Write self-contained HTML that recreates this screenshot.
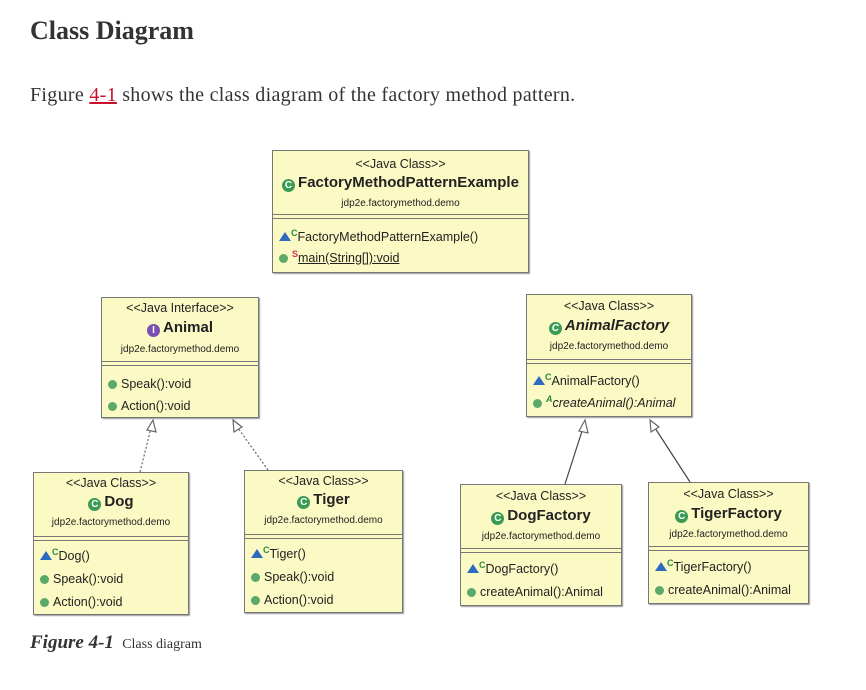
<!DOCTYPE html>
<html><head><meta charset="utf-8"><style>
body{margin:0;width:866px;height:690px;background:#fff;position:relative;overflow:hidden;font-family:"Liberation Sans",sans-serif}
.t{position:absolute;font-family:"Liberation Serif",serif;color:#333;white-space:nowrap}
.box{position:absolute;background:#fbf9c4;border:1px solid #777;box-shadow:1px 1px 1px #999;box-sizing:border-box;font-size:11px;color:#222}
.box div{position:absolute;left:0;right:0;white-space:nowrap;line-height:16px}
.c{text-align:center}
.st{font-size:12.5px;top:5px}
.nm{font-size:15px;font-weight:bold}
.pk{font-size:10px}
.dl{height:3px;border-top:1px solid #777;border-bottom:1px solid #777}
.m{padding-left:6px;font-size:12.5px}
.ic{display:inline-block;width:13px;height:13px;border-radius:50%;background:#3b9a53;color:#fff;font-size:10px;line-height:13px;text-align:center;font-weight:bold;vertical-align:-1px;margin-right:3px}
.dot{display:inline-block;width:9px;height:9px;border-radius:50%;background:#5aa86a;margin-right:4px;vertical-align:-1px}
.tri{display:inline-block;width:0;height:0;border-left:6px solid transparent;border-right:6px solid transparent;border-bottom:9px solid #2d6bbf;vertical-align:0}
sup{font-size:9px;color:#2a8a3a;font-weight:bold;line-height:0;vertical-align:5px}
</style></head><body>
<div class="t" style="left:30px;top:16px;font-size:26px;font-weight:bold">Class Diagram</div>
<div class="t" style="left:30px;top:84px;font-size:20px;letter-spacing:0.3px">Figure <span style="color:#c8102e;text-decoration:underline">4-1</span> shows the class diagram of the factory method pattern.</div>
<div class="t" style="left:30px;top:632px;font-size:19px"><b><i>Figure 4-1</i></b> <span style="font-size:14px">&nbsp;Class diagram</span></div>

<svg style="position:absolute;left:0;top:0" width="866" height="690">
<g fill="#fff" stroke="#666" stroke-width="1.2">
<line x1="140" y1="472" x2="151" y2="428" stroke-dasharray="2,2"/>
<line x1="268" y1="470" x2="238" y2="428" stroke-dasharray="2,2"/>
<line x1="565" y1="484" x2="583" y2="428" stroke="#444"/>
<line x1="690" y1="482" x2="655" y2="428" stroke="#444"/>
<polygon points="153,420 147,430 156,432"/>
<polygon points="233,420 234,432 242,427"/>
<polygon points="585,420 579,431 588,433"/>
<polygon points="650,420 651,432 659,427"/>
</g></svg>

<div class="box" style="left:272px;top:150px;width:257px;height:123px">
<div class="c st">&lt;&lt;Java Class&gt;&gt;</div>
<div class="c nm" style="top:24px"><span class="ic">C</span>FactoryMethodPatternExample</div>
<div class="c pk" style="top:45px">jdp2e.factorymethod.demo</div>
<div class="dl" style="top:63px"></div>
<div class="m" style="top:78px"><span class="tri"></span><sup>C</sup>FactoryMethodPatternExample()</div>
<div class="m" style="top:99px"><span class="dot"></span><sup style="color:#d03060">S</sup><u>main(String[]):void</u></div>
</div>

<div class="box" style="left:101px;top:297px;width:158px;height:121px">
<div class="c st" style="top:2px">&lt;&lt;Java Interface&gt;&gt;</div>
<div class="c nm" style="top:22px"><span class="ic" style="background:#7a4fb0">I</span>Animal</div>
<div class="c pk" style="top:44px">jdp2e.factorymethod.demo</div>
<div class="dl" style="top:63px"></div>
<div class="m" style="top:78px"><span class="dot"></span>Speak():void</div>
<div class="m" style="top:100px"><span class="dot"></span>Action():void</div>
</div>

<div class="box" style="left:33px;top:472px;width:156px;height:143px">
<div class="c st" style="top:2px">&lt;&lt;Java Class&gt;&gt;</div>
<div class="c nm" style="top:21px"><span class="ic">C</span>Dog</div>
<div class="c pk" style="top:42px">jdp2e.factorymethod.demo</div>
<div class="dl" style="top:63px"></div>
<div class="m" style="top:75px"><span class="tri"></span><sup>C</sup>Dog()</div>
<div class="m" style="top:98px"><span class="dot"></span>Speak():void</div>
<div class="m" style="top:121px"><span class="dot"></span>Action():void</div>
</div>

<div class="box" style="left:244px;top:470px;width:159px;height:143px">
<div class="c st" style="top:2px">&lt;&lt;Java Class&gt;&gt;</div>
<div class="c nm" style="top:21px"><span class="ic">C</span>Tiger</div>
<div class="c pk" style="top:42px">jdp2e.factorymethod.demo</div>
<div class="dl" style="top:63px"></div>
<div class="m" style="top:75px"><span class="tri"></span><sup>C</sup>Tiger()</div>
<div class="m" style="top:98px"><span class="dot"></span>Speak():void</div>
<div class="m" style="top:121px"><span class="dot"></span>Action():void</div>
</div>

<div class="box" style="left:526px;top:294px;width:166px;height:123px">
<div class="c st" style="top:3px">&lt;&lt;Java Class&gt;&gt;</div>
<div class="c nm" style="top:23px"><i><span class="ic">C</span>AnimalFactory</i></div>
<div class="c pk" style="top:44px">jdp2e.factorymethod.demo</div>
<div class="dl" style="top:64px"></div>
<div class="m" style="top:78px"><span class="tri"></span><sup>C</sup>AnimalFactory()</div>
<div class="m" style="top:100px"><i><span class="dot"></span><sup>A</sup>createAnimal():Animal</i></div>
</div>

<div class="box" style="left:460px;top:484px;width:162px;height:122px">
<div class="c st" style="top:3px">&lt;&lt;Java Class&gt;&gt;</div>
<div class="c nm" style="top:23px"><span class="ic">C</span>DogFactory</div>
<div class="c pk" style="top:44px">jdp2e.factorymethod.demo</div>
<div class="dl" style="top:63px"></div>
<div class="m" style="top:76px"><span class="tri"></span><sup>C</sup>DogFactory()</div>
<div class="m" style="top:99px"><span class="dot"></span>createAnimal():Animal</div>
</div>

<div class="box" style="left:648px;top:482px;width:161px;height:122px">
<div class="c st" style="top:3px">&lt;&lt;Java Class&gt;&gt;</div>
<div class="c nm" style="top:23px"><span class="ic">C</span>TigerFactory</div>
<div class="c pk" style="top:44px">jdp2e.factorymethod.demo</div>
<div class="dl" style="top:63px"></div>
<div class="m" style="top:76px"><span class="tri"></span><sup>C</sup>TigerFactory()</div>
<div class="m" style="top:99px"><span class="dot"></span>createAnimal():Animal</div>
</div>
</body></html>
